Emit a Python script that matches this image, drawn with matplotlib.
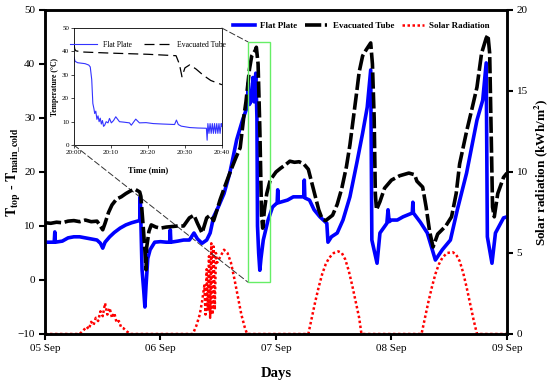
import pandas as pd
import matplotlib
matplotlib.use('Agg')
from matplotlib import pyplot as plt
from matplotlib import dates as mdates
from matplotlib.patches import Rectangle, ConnectionPatch

plt.rcParams['font.family'] = ['Liberation Serif', 'DejaVu Serif']
plt.rcParams['mathtext.fontset'] = 'stix'

# ---- data (time in days after 05 Sep) ----
et_days = [0.00, 0.05, 0.10, 0.15, 0.20, 0.25, 0.30, 0.35, 0.40, 0.45, 0.47, 0.50, 0.52, 0.55, 0.58,
           0.62, 0.66, 0.70, 0.74, 0.78, 0.82, 0.83, 0.85, 0.87, 0.875, 0.88, 0.90, 0.92, 0.96, 1.00,
           1.05, 1.10, 1.15, 1.20, 1.25, 1.29, 1.32, 1.36, 1.40, 1.43, 1.46, 1.49, 1.515, 1.56, 1.60,
           1.65, 1.69, 1.72, 1.74, 1.77, 1.79, 1.82, 1.83, 1.845, 1.86, 1.875, 1.885, 1.90, 1.92, 1.95,
           2.00, 2.04, 2.08, 2.12, 2.16, 2.20, 2.24, 2.28, 2.31, 2.34, 2.37, 2.40, 2.43, 2.46, 2.49,
           2.53, 2.57, 2.61, 2.64, 2.67, 2.70, 2.72, 2.75, 2.78, 2.82, 2.835, 2.85, 2.86, 2.87, 2.90,
           2.94, 3.00, 3.07, 3.15, 3.20, 3.22, 3.27, 3.30, 3.33, 3.36, 3.40, 3.47, 3.52, 3.56, 3.59,
           3.65, 3.70, 3.74, 3.78, 3.82, 3.835, 3.85, 3.865, 3.875, 3.89, 3.92, 3.97, 4.00]
et_vals = [10.6, 10.5, 10.7, 10.6, 10.9, 11.0, 10.8, 11.1, 10.8, 10.9, 10.3, 9.3, 10.5, 12.5, 13.9,
           15.0, 15.4, 16.0, 16.5, 16.8, 16.3, 15.5, 10.0, 4.0, 1.9, 6.0, 9.0, 10.2, 9.8, 9.6,
           9.8, 9.9, 10.0, 10.0, 11.5, 12.0, 10.5, 8.7, 11.5, 12.0, 11.0, 13.0, 14.8, 17.5, 19.8,
           22.5, 24.5, 30.0, 33.0, 39.0, 41.5, 42.5, 43.1, 40.0, 28.0, 12.0, 9.6, 13.0, 16.0, 18.5,
           20.0, 20.7, 21.3, 22.0, 21.8, 21.9, 21.5, 20.5, 18.0, 15.5, 13.0, 11.3, 11.0, 11.5, 12.0,
           14.0, 17.0, 21.0, 25.0, 30.0, 35.0, 38.5, 41.5, 42.6, 43.9, 40.0, 30.0, 16.0, 13.0, 14.5,
           17.0, 18.5, 19.3, 19.8, 19.5, 18.3, 17.2, 13.5, 9.0, 6.1, 8.5, 10.0, 11.7, 16.0, 21.5,
           27.5, 32.0, 35.7, 42.0, 44.8, 45.4, 42.0, 25.0, 13.5, 11.7, 16.0, 19.0, 19.8]

fp_days = [0.00, 0.08, 0.085, 0.09, 0.15, 0.20, 0.25, 0.30, 0.35, 0.40, 0.45, 0.48, 0.50, 0.52, 0.56,
           0.60, 0.65, 0.70, 0.75, 0.80, 0.82, 0.825, 0.83, 0.84, 0.855, 0.865, 0.875, 0.89, 0.91, 0.95,
           1.00, 1.05, 1.08, 1.085, 1.09, 1.15, 1.20, 1.25, 1.29, 1.32, 1.36, 1.40, 1.43, 1.46, 1.50,
           1.55, 1.60, 1.66, 1.71, 1.75, 1.76, 1.77, 1.79, 1.80, 1.81, 1.825, 1.835, 1.84, 1.85, 1.86,
           1.87, 1.89, 1.93, 1.97, 2.01, 2.015, 2.02, 2.10, 2.15, 2.24, 2.245, 2.25, 2.29, 2.33, 2.38,
           2.44, 2.45, 2.48, 2.53, 2.58, 2.64, 2.70, 2.75, 2.79, 2.82, 2.83, 2.875, 2.90, 2.96, 2.97,
           2.98, 3.00, 3.05, 3.10, 3.18, 3.185, 3.19, 3.25, 3.31, 3.38, 3.44, 3.51, 3.57, 3.65, 3.74,
           3.79, 3.82, 3.83, 3.87, 3.90, 3.97, 4.00]
fp_vals = [7.0, 7.0, 8.9, 7.0, 7.2, 7.8, 8.0, 8.0, 7.8, 7.6, 7.4, 6.8, 5.9, 7.0, 8.0,
           8.8, 9.6, 10.2, 10.6, 10.9, 11.0, 15.4, 11.0, 2.0, -2.0, -5.0, -1.0, 4.0, 5.6, 7.0,
           7.1, 7.0, 7.0, 9.3, 7.0, 7.2, 7.4, 7.4, 8.7, 7.6, 6.8, 7.4, 8.7, 11.7, 13.5,
           16.0, 19.8, 26.0, 29.6, 32.0, 36.5, 32.5, 33.5, 37.5, 33.0, 38.3, 30.0, 10.0, 5.0, 1.8,
           4.0, 7.4, 11.0, 13.5, 14.3, 16.7, 14.3, 14.8, 15.4, 15.4, 18.5, 15.2, 14.8, 13.0, 11.7,
           10.5, 7.0, 8.0, 8.7, 11.1, 15.4, 21.7, 27.2, 32.0, 38.9, 7.4, 3.1, 8.7, 10.5, 13.0,
           10.8, 11.1, 11.1, 11.7, 12.4, 14.4, 12.4, 10.7, 8.7, 3.7, 5.6, 7.4, 13.0, 19.8, 29.6,
           33.3, 40.2, 8.0, 3.1, 8.7, 11.5, 11.7]

sr_days = [0.00, 0.30, 0.33, 0.36, 0.38, 0.40, 0.42, 0.44, 0.46, 0.48, 0.50, 0.52, 0.54, 0.56, 0.58,
           0.60, 0.62, 0.64, 0.66, 0.68, 0.71, 0.74,
           1.28, 1.31, 1.34, 1.36, 1.38, 1.39, 1.40, 1.41, 1.42, 1.43, 1.44, 1.45, 1.46, 1.47, 1.48,
           1.49, 1.52, 1.55, 1.58, 1.61, 1.64, 1.67, 1.70, 1.73, 1.75,
           2.28, 2.31, 2.34, 2.37, 2.40, 2.43, 2.46, 2.50, 2.54, 2.57, 2.60, 2.63, 2.66, 2.69, 2.72, 2.74,
           3.26, 3.29, 3.32, 3.35, 3.38, 3.41, 3.44, 3.48, 3.53, 3.56, 3.59, 3.62, 3.65, 3.68, 3.71, 3.74,
           4.00]
sr_vals = [0.0, 0.0, 0.2, 0.45, 0.3, 0.75, 0.55, 1.0, 0.8, 1.4, 1.1, 1.9, 1.2, 1.6, 1.0,
           1.3, 0.7, 0.8, 0.4, 0.35, 0.15, 0.0,
           0.0, 0.5, 1.2, 2.0, 3.0, 1.2, 4.0, 1.5, 4.8, 1.0, 5.6, 1.2, 5.4, 1.5, 5.0,
           4.4, 4.8, 5.2, 5.0, 4.4, 3.4, 2.3, 1.2, 0.4, 0.0,
           0.0, 1.0, 2.0, 2.9, 3.7, 4.3, 4.7, 5.0, 5.1, 5.0, 4.6, 3.9, 3.0, 2.0, 1.0, 0.0,
           0.0, 1.0, 2.0, 2.9, 3.7, 4.3, 4.7, 5.0, 5.05, 4.9, 4.5, 3.8, 2.9, 1.9, 0.9, 0.0,
           0.0]

# inset: the 40 minutes after 20:00 on 06 Sep
in_fp_min = [0, 0.3, 1, 2, 3, 4, 4.4, 4.8, 5.1, 5.4, 5.6, 5.9, 6.2, 6.5, 6.8, 7.1, 7.4, 7.7, 8.0,
             8.3, 8.7, 9.2, 9.6, 10.1, 10.7, 11.3, 12.3, 13.5, 15.0, 15.5, 16.7, 17.7, 19.5, 21.4,
             24.0, 27.2, 27.7, 28.2, 29.0, 31.3, 33.5, 35.8, 36.0, 36.2, 36.5, 36.8, 37.1, 37.4,
             37.7, 38.0, 38.3, 38.6, 38.9, 39.2, 39.5, 39.8, 40.0]
in_fp_temp = [37.6, 35.8, 35.2, 35.0, 34.8, 34.2, 33.4, 28.0, 17.8, 15.5, 13.5, 14.5, 11.0, 12.5, 10.0,
              11.5, 9.0, 10.5, 8.0, 8.5, 10.0, 9.5, 11.4, 9.5, 10.5, 12.1, 10.0, 9.8, 9.5,
              8.5, 11.1, 9.5, 9.6, 9.2, 9.0, 8.8, 10.7, 8.8, 8.1, 7.5, 7.3, 7.2, 2.1, 9.2,
              5.0, 9.2, 5.0, 9.2, 5.0, 9.2, 5.0, 9.2, 5.0, 9.2, 5.0, 9.2, 8.0]
in_et_min = [0, 0.2, 0.5, 2, 10, 20, 27.6, 28.5, 29.2, 30.0, 31.3, 33.0, 35.0, 37.0, 40.0]
in_et_temp = [43.3, 41.0, 40.3, 39.8, 39.3, 38.8, 38.2, 34.6, 29.2, 33.0, 34.3, 32.5, 29.8, 27.6, 25.8]

start = pd.Timestamp('2019-09-05')
et_t = start + pd.to_timedelta(et_days, unit='D')
fp_t = start + pd.to_timedelta(fp_days, unit='D')
sr_t = start + pd.to_timedelta(sr_days, unit='D')

fig = plt.figure(figsize=(5.5, 3.89), dpi=100)
ax = fig.add_axes([0.0818, 0.1414, 0.84, 0.8329])
ax2 = ax.twinx()

l_fp, = ax.plot(fp_t, fp_vals, color='#0000ff', lw=2.6, label='Flat Plate')
l_et, = ax.plot(et_t, et_vals, color='black', lw=2.6, linestyle=(0, (4.5, 1.0)), label='Evacuated Tube')
l_sr, = ax2.plot(sr_t, sr_vals, color='red', lw=1.8, linestyle=(0, (1, 1)), label='Solar Radiation')
ax.set_zorder(ax2.get_zorder() + 1)
ax.patch.set_visible(False)

ax.set_ylim(-10, 50)
ax.set_yticks(range(-10, 51, 10))
ax2.set_ylim(0, 20)
ax2.set_yticks(range(0, 21, 5))
ax.set_xlim(start, start + pd.Timedelta(days=4))
ax.xaxis.set_major_locator(mdates.DayLocator())
ax.xaxis.set_major_formatter(mdates.DateFormatter('%d %b'))

for a in (ax, ax2):
    for s in a.spines.values():
        s.set_linewidth(1.8)
    a.tick_params(labelsize=8, width=1.5, length=4, pad=3)

ax.set_xlabel('Days', fontsize=10.5, fontweight='bold', labelpad=10)
ax.set_ylabel(r'$\mathbf{T_{top}}$ - $\mathbf{T_{main\_cold}}$', fontsize=10)
ax.yaxis.set_label_coords(-0.048, 0.5)
ax2.set_ylabel(r'Solar radiation (kWh/m$^\mathbf{2}$)', fontsize=9.5, fontweight='bold', labelpad=3)

ax.legend([l_fp, l_et, l_sr], ['Flat Plate', 'Evacuated Tube', 'Solar Radiation'],
          loc='upper center', bbox_to_anchor=(0.685, 0.99), ncol=3, frameon=False,
          prop={'size': 6.5, 'weight': 'bold'}, handlelength=2.4, columnspacing=0.9,
          handletextpad=0.6)

# green box around the zoomed event
box_x0 = mdates.date2num(start + pd.Timedelta(days=1.757))
box_x1 = mdates.date2num(start + pd.Timedelta(days=1.948))
ax.add_patch(Rectangle((box_x0, -0.4), box_x1 - box_x0, 44.5, fill=False,
                       edgecolor='#66ee66', lw=1.0, zorder=5))

# inset
ins = fig.add_axes([0.1345, 0.627, 0.269, 0.3008])
ins.plot(in_fp_min, in_fp_temp, color='#3333ff', lw=0.8, label='Flat Plate')
ins.plot(in_et_min, in_et_temp, color='black', lw=0.9, linestyle=(0, (8, 4)), label='Evacuated Tube')
ins.set_xlim(0, 40)
ins.set_ylim(0, 50)
ins.set_xticks([0, 10, 20, 30, 40])
ins.set_xticklabels(['20:00', '20:10', '20:20', '20:30', '20:40'])
ins.set_yticks(range(0, 51, 10))
ins.tick_params(labelsize=5, length=2, width=0.5, pad=1.5)
for s in ins.spines.values():
    s.set_linewidth(0.6)
ins.set_xlabel('Time (min)', fontsize=6, fontweight='bold', labelpad=8)
ins.set_ylabel('Temperature (°C)', fontsize=5.5, fontweight='bold', labelpad=2)
ins.legend(loc='upper center', ncol=2, frameon=False, prop={'size': 5.5}, bbox_to_anchor=(0.5, 0.95),
           handlelength=3.5, columnspacing=1.5)

# dashed connector lines from the inset to the box
for pa, pb in [((1, 1), (box_x0, 44.1)), ((0, 0), (box_x0, -0.4))]:
    con = ConnectionPatch(xyA=pa, coordsA=ins.transAxes, xyB=pb, coordsB=ax.transData,
                          color='#333333', lw=0.7, linestyle=(0, (6, 3)))
    fig.add_artist(con)

fig.savefig('out.png', dpi=100)
